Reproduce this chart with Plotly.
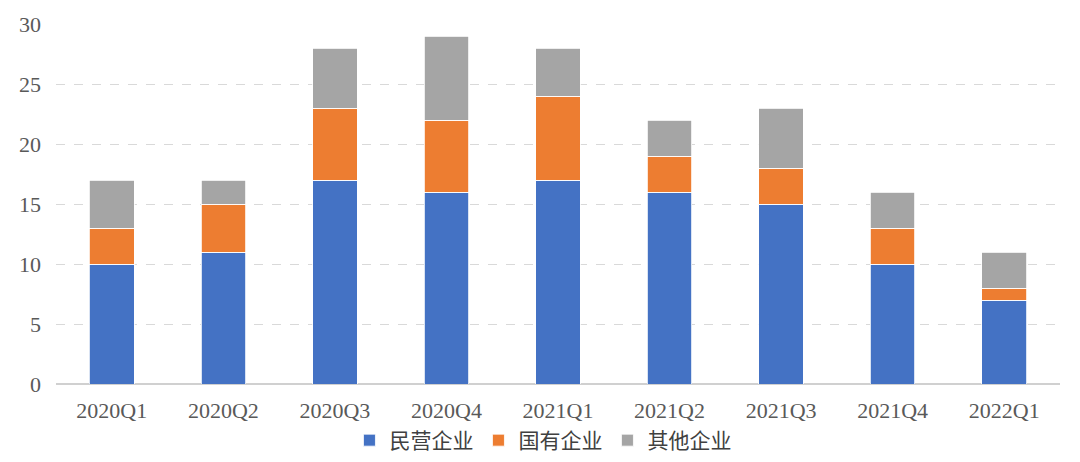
import plotly.graph_objects as go

categories = ["2020Q1", "2020Q2", "2020Q3", "2020Q4", "2021Q1", "2021Q2", "2021Q3", "2021Q4", "2022Q1"]
private = [10, 11, 17, 16, 17, 16, 15, 10, 7]
state = [3, 4, 6, 6, 7, 3, 3, 3, 1]
other = [4, 2, 5, 7, 4, 3, 5, 3, 3]
y_ticks = [0, 5, 10, 15, 20, 25, 30]

series = [("民营企业", private, "#4472C4"), ("国有企业", state, "#ED7D31"), ("其他企业", other, "#A5A5A5")]

serif = "Liberation Serif, Times New Roman, serif"

fig = go.Figure()
for name, vals, color in series:
    fig.add_trace(go.Bar(x=categories, y=vals, name=name, marker=dict(color=color, line=dict(color="white", width=0.8))))

fig.update_layout(
    barmode="stack",
    bargap=0.6,
    width=1072, height=454,
    margin=dict(l=48, r=20, t=16, b=78, autoexpand=False),
    plot_bgcolor="white", paper_bgcolor="white",
    font=dict(family=serif, size=22, color="#595959"),
    showlegend=True,
    legend=dict(orientation="h", traceorder="normal", x=0.485, xanchor="center", y=-0.1, yanchor="top",
                bgcolor="rgba(0,0,0,0)",
                font=dict(family="Noto Sans CJK SC", size=21, color="#404040"),
                itemwidth=30, tracegroupgap=0),
)
fig.update_xaxes(showgrid=False, showline=False, ticks="", automargin=False,
                 tickfont=dict(family=serif, size=22, color="#595959"), ticklabelstandoff=11)
fig.update_yaxes(range=[0, 30], tickvals=y_ticks, showgrid=True, gridcolor="#d9d9d9", griddash="dash",
                 gridwidth=1, zeroline=True, zerolinecolor="#d0d0d0", zerolinewidth=2, automargin=False,
                 tickfont=dict(family=serif, size=22, color="#595959"), ticklabelstandoff=14)

fig.write_html("out.html")
